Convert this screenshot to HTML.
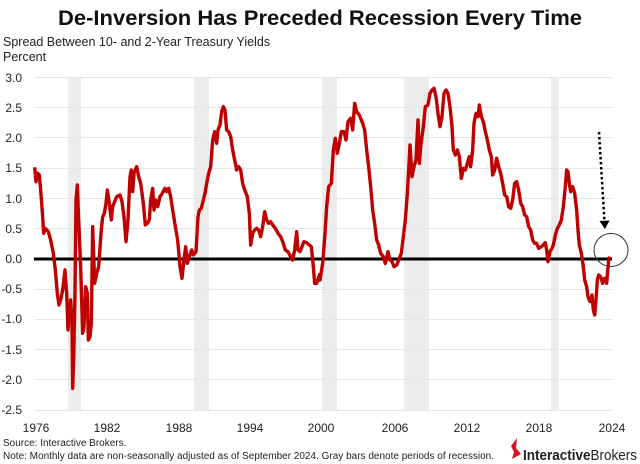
<!DOCTYPE html>
<html><head><meta charset="utf-8"><style>
html,body{margin:0;padding:0;background:#fff;width:640px;height:464px;overflow:hidden}
svg{display:block}
</style></head><body>
<svg width="640" height="464" viewBox="0 0 640 464" xmlns="http://www.w3.org/2000/svg" font-family="Liberation Sans, sans-serif">
<text x="58" y="25" textLength="524" lengthAdjust="spacingAndGlyphs" font-size="21" font-weight="bold" fill="#111">De-Inversion Has Preceded Recession Every Time</text>
<text x="3" y="46" font-size="12.5" fill="#222">Spread Between 10- and 2-Year Treasury Yields</text>
<text x="3" y="61" font-size="12.5" fill="#222">Percent</text>
<g fill="#ececec">
<rect x="68" y="77" width="13" height="333"/>
<rect x="194" y="77" width="15" height="333"/>
<rect x="322" y="77" width="15" height="333"/>
<rect x="404" y="77" width="25" height="333"/>
<rect x="551" y="77" width="8" height="333"/>
</g>
<g stroke="#e6e6e6" stroke-width="1">
<line x1="34" x2="612" y1="77.5" y2="77.5"/><line x1="34" x2="612" y1="107.5" y2="107.5"/>
<line x1="34" x2="612" y1="137.5" y2="137.5"/><line x1="34" x2="612" y1="168.5" y2="168.5"/>
<line x1="34" x2="612" y1="198.5" y2="198.5"/><line x1="34" x2="612" y1="228.5" y2="228.5"/>
<line x1="34" x2="612" y1="289.5" y2="289.5"/><line x1="34" x2="612" y1="319.5" y2="319.5"/>
<line x1="34" x2="612" y1="349.5" y2="349.5"/><line x1="34" x2="612" y1="379.5" y2="379.5"/>
<line x1="34" x2="612" y1="410.5" y2="410.5"/>
</g>
<g font-size="12" fill="#222" text-anchor="end">
<text x="22" y="82">3.0</text><text x="22" y="112">2.5</text><text x="22" y="142">2.0</text>
<text x="22" y="172">1.5</text><text x="22" y="203">1.0</text><text x="22" y="233">0.5</text>
<text x="22" y="263">0.0</text><text x="22" y="293">-0.5</text><text x="22" y="323">-1.0</text>
<text x="22" y="354">-1.5</text><text x="22" y="384">-2.0</text><text x="22" y="414">-2.5</text>
</g>
<g font-size="12" fill="#222" text-anchor="middle">
<text x="36" y="432">1976</text><text x="107" y="432">1982</text><text x="179" y="432">1988</text>
<text x="250" y="432">1994</text><text x="321" y="432">2000</text><text x="395" y="432">2006</text>
<text x="467" y="432">2012</text><text x="539" y="432">2018</text><text x="612" y="432">2024</text>
</g>
<line x1="34" x2="612" y1="259" y2="259" stroke="#000" stroke-width="3"/>
<g fill="none" stroke="#c00000" stroke-width="3.4" stroke-linejoin="round">
<polyline vector-effect="non-scaling-stroke" transform="translate(0,60) scale(0.33333)" points="104,322 108,365 113,340 118,345 122,390 128,470 131,520 136,505 145,515 152,540 160,580 166,630 172,700 177,735 182,720 188,690 195,630 200,700 204,810 208,760 212,720 216,790 218,985 221,900 225,700 228,420 232,375 236,480 242,620 248,820 252,800 257,680 262,700 265,840 270,830 274,790 278,500 284,670 290,640 296,620 303,520 308,470 313,460 318,430 322,390 328,430 334,480 338,440 346,420 350,410 360,405 366,425 372,470 378,545 384,480 390,350 394,330 398,395 402,340 406,330 410,320 416,350 422,370 426,400 430,430 436,495 442,490 448,480 452,420 458,385 462,450 467,420 473,440 480,410 487,400 495,385 500,395 506,385 512,410 518,450 526,500 533,540 540,620 546,655 552,600 557,560 562,610 568,590 575,570 580,585 588,575 594,470 598,450 604,445 610,420 615,400 620,370 626,340 632,320 638,240 644,215 650,250 654,210 660,195 665,155 670,140 675,150 680,210 686,215 692,230 698,270 704,300 710,330 716,320 722,330 728,370 734,390 742,410 748,460 752,555 758,520 764,510 770,505 776,510 782,530 788,500 794,455 800,480 806,490 812,485 818,495 826,505 834,520 842,530 848,545 856,570 864,575 872,590 878,600 884,570 890,515 894,570 900,575 906,560 912,545 920,548 928,555 934,560 940,620 944,670 950,670 960,640"/>
<polyline vector-effect="non-scaling-stroke" transform="translate(320,60) scale(0.33333)" points="0,640 0,660 8,610 15,520 20,440 26,380 34,370 40,270 46,235 52,280 58,250 64,215 72,215 78,240 84,185 92,175 98,210 104,130 110,155 118,165 128,190 134,210 140,270 146,320 152,380 158,450 164,490 170,540 176,555 182,580 190,590 196,610 204,575 210,600 216,605 222,620 230,615 236,600 244,580 250,530 256,480 262,400 266,330 270,255 276,350 282,320 288,300 294,180 298,310 302,260 310,200 316,140 324,135 330,100 336,90 342,85 348,110 354,160 360,200 366,170 372,100 378,90 384,100 390,140 396,200 400,270 406,285 412,270 418,290 424,355 430,325 436,330 442,310 448,290 452,320 458,270 462,190 468,160 474,170 478,135 484,170 490,185 496,215 502,240 508,270 514,290 518,345 524,330 530,295 536,320 542,340 548,370 554,405 560,410 566,440 572,445 578,420 584,370 590,365 596,390 602,430 608,440 614,465 620,470 626,500 632,510 638,540 644,550 650,550 656,565 664,560 670,555 676,548 680,570 684,605 690,575 696,565 700,555 706,525 712,505 718,495 724,480 730,440 736,380 740,330 744,335 748,370 752,395 758,380 764,400 770,450 774,510 778,555 784,580 790,620 794,660 800,680 804,710 810,725 816,705 820,750 824,765 828,720 832,660 836,645 842,650 848,670 854,655 860,670 866,600 869,590"/>
</g>
<line x1="599" y1="132" x2="604.5" y2="222" stroke="#000" stroke-width="2.5" stroke-dasharray="2.5,2.5"/>
<polygon points="599.5,221 609.5,220.5 605,229" fill="#000"/>
<ellipse cx="611" cy="250" rx="17" ry="16.5" fill="none" stroke="#333" stroke-width="1"/>
<text x="3" y="446" font-size="10" fill="#222">Source: Interactive Brokers.</text>
<text x="3" y="459" font-size="10" fill="#222" textLength="491" lengthAdjust="spacingAndGlyphs">Note: Monthly data are non-seasonally adjusted as of September 2024. Gray bars denote periods of recession.</text>
<path d="M511,446 L517,438 L516,448 L521,454 L512,459 L514,452 Z" fill="#d81222"/>
<text x="523" y="460" font-size="15" fill="#222" textLength="114" lengthAdjust="spacingAndGlyphs"><tspan font-weight="bold">Interactive</tspan>Brokers</text>
</svg>
</body></html>
